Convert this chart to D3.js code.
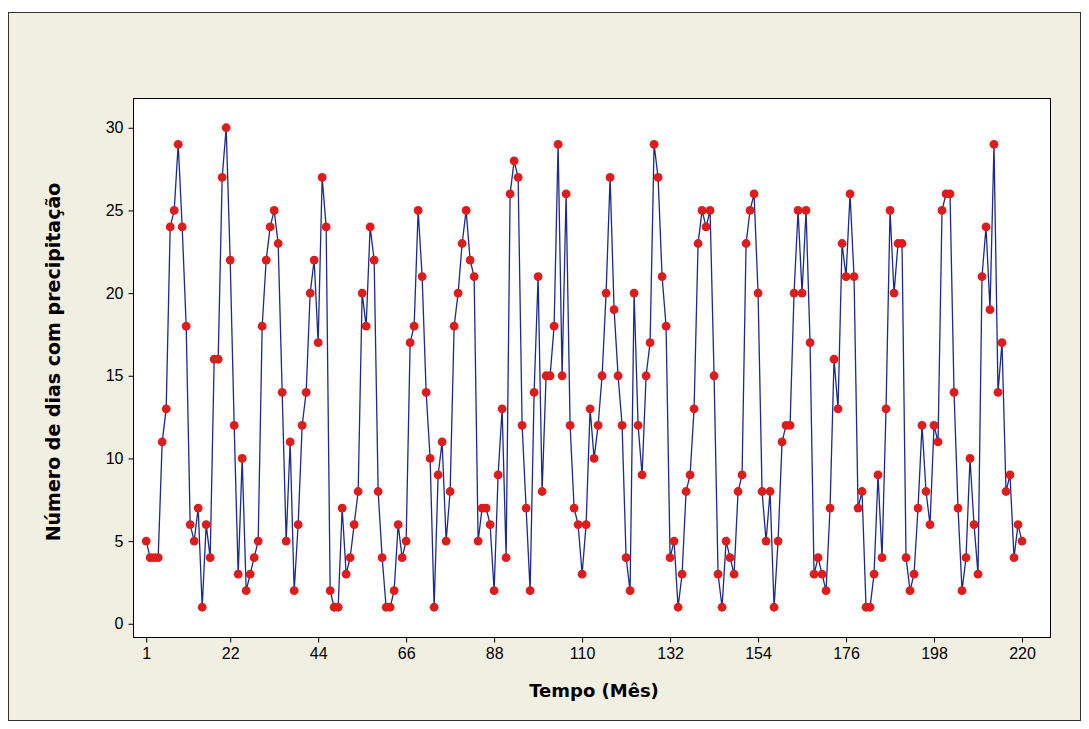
<!DOCTYPE html>
<html>
<head>
<meta charset="utf-8">
<script src="https://cdn.jsdelivr.net/npm/d3@7"></script>
<style>
  body { margin: 0; background: #ffffff; }
  svg { display: block; }
</style>
</head>
<body>
<div id="chart"></div>
<script>
// número de dias com precipitação por mês (índice 1..220)
const diasChuva = [
  5,4,4,4,11,13,24,25,29,24,18,6,5,7,1,6,4,
  16,16,27,30,22,12,3,10,2,3,4,5,18,22,24,25,23,14,5,
  11,2,6,12,14,20,22,17,27,24,2,1,1,7,3,4,6,8,20,
  18,24,22,8,4,1,1,2,6,4,5,17,18,25,21,14,10,1,
  9,11,5,8,18,20,23,25,22,21,5,7,7,6,2,9,13,4,26,28,
  27,12,7,2,14,21,8,15,15,18,29,15,26,12,7,6,3,6,
  13,10,12,15,20,27,19,15,12,4,2,20,12,9,15,17,29,27,21,18,
  4,5,1,3,8,9,13,23,25,24,25,15,3,1,5,4,3,
  8,9,23,25,26,20,8,5,8,1,5,11,12,12,20,25,20,25,17,3,
  4,3,2,7,16,13,23,21,26,21,7,8,1,1,3,9,4,13,
  25,20,23,23,4,2,3,7,12,8,6,12,11,25,26,26,14,7,
  2,4,10,6,3,21,24,19,29,14,17,8,9,4,6,5
]
const meses = diasChuva.map((d, i) => i + 1)

const xTicks = [1, 22, 44, 66, 88, 110, 132, 154, 176, 198, 220]
const yTicks = [0, 5, 10, 15, 20, 25, 30]

const xTitle = "Tempo (Mês)"
const yTitle = "Número de dias com precipitação"

const data = meses.map((m, i) => ({x: m, y: diasChuva[i]}))

const w = 1089
const h = 729
const margin = ({top: 98, right: 39, bottom: 92, left: 133})

const x = d3.scaleLinear()
    .domain([-2.3, 227])
    .range([margin.left, w - margin.right])

const y = d3.scaleLinear()
    .domain([-0.8, 31.8])
    .range([h - margin.bottom, margin.top])

const svg = d3.select("#chart")
    .append("svg")
    .attr("width", w)
    .attr("height", h)
    .attr("viewBox", [0, 0, w, h])
    .style("font-family", "Tahoma, 'DejaVu Sans', Verdana, sans-serif")

// fundo da figura
svg.append("rect")
    .attr("x", 8.5).attr("y", 12.5)
    .attr("width", 1072).attr("height", 708)
    .attr("fill", "#f1eee2")
    .attr("stroke", "#333")
    .attr("stroke-width", 1)

// região de dados
svg.append("rect")
    .attr("x", margin.left + 0.5).attr("y", margin.top + 0.5)
    .attr("width", w - margin.left - margin.right)
    .attr("height", h - margin.top - margin.bottom)
    .attr("fill", "#ffffff")
    .attr("stroke", "#000")
    .attr("stroke-width", 1)

const xAxis = g => g
    .attr("transform", `translate(0,${h - margin.bottom + 0.5})`)
    .call(d3.axisBottom(x).tickValues(xTicks).tickSize(5).tickPadding(5))
    .call(g => g.select(".domain").remove())
    .call(g => g.selectAll("text").attr("font-size", 16).attr("fill", "#000"))

const yAxis = g => g
    .attr("transform", `translate(${margin.left + 0.5},0)`)
    .call(d3.axisLeft(y).tickValues(yTicks).tickSize(5).tickPadding(5))
    .call(g => g.select(".domain").remove())
    .call(g => g.selectAll("text").attr("font-size", 16).attr("fill", "#000"))

svg.append("g").call(xAxis)
svg.append("g").call(yAxis)

const line = d3.line()
    .x(d => x(d.x))
    .y(d => y(d.y))

svg.append("path")
    .datum(data)
    .attr("fill", "none")
    .attr("stroke", "#1c2a8c")
    .attr("stroke-width", 1.3)
    .attr("d", line)

svg.append("g")
    .selectAll("circle")
    .data(data)
    .join("circle")
    .attr("cx", d => x(d.x))
    .attr("cy", d => y(d.y))
    .attr("r", 4.4)
    .attr("fill", "#dd1c1c")

svg.append("text")
    .attr("x", 594)
    .attr("y", 697)
    .attr("text-anchor", "middle")
    .attr("font-size", 18)
    .attr("font-weight", "bold")
    .text(xTitle)

svg.append("text")
    .attr("transform", "translate(60,362) rotate(-90)")
    .attr("text-anchor", "middle")
    .attr("font-size", 19)
    .attr("font-weight", "bold")
    .text(yTitle)
</script>
</body>
</html>
